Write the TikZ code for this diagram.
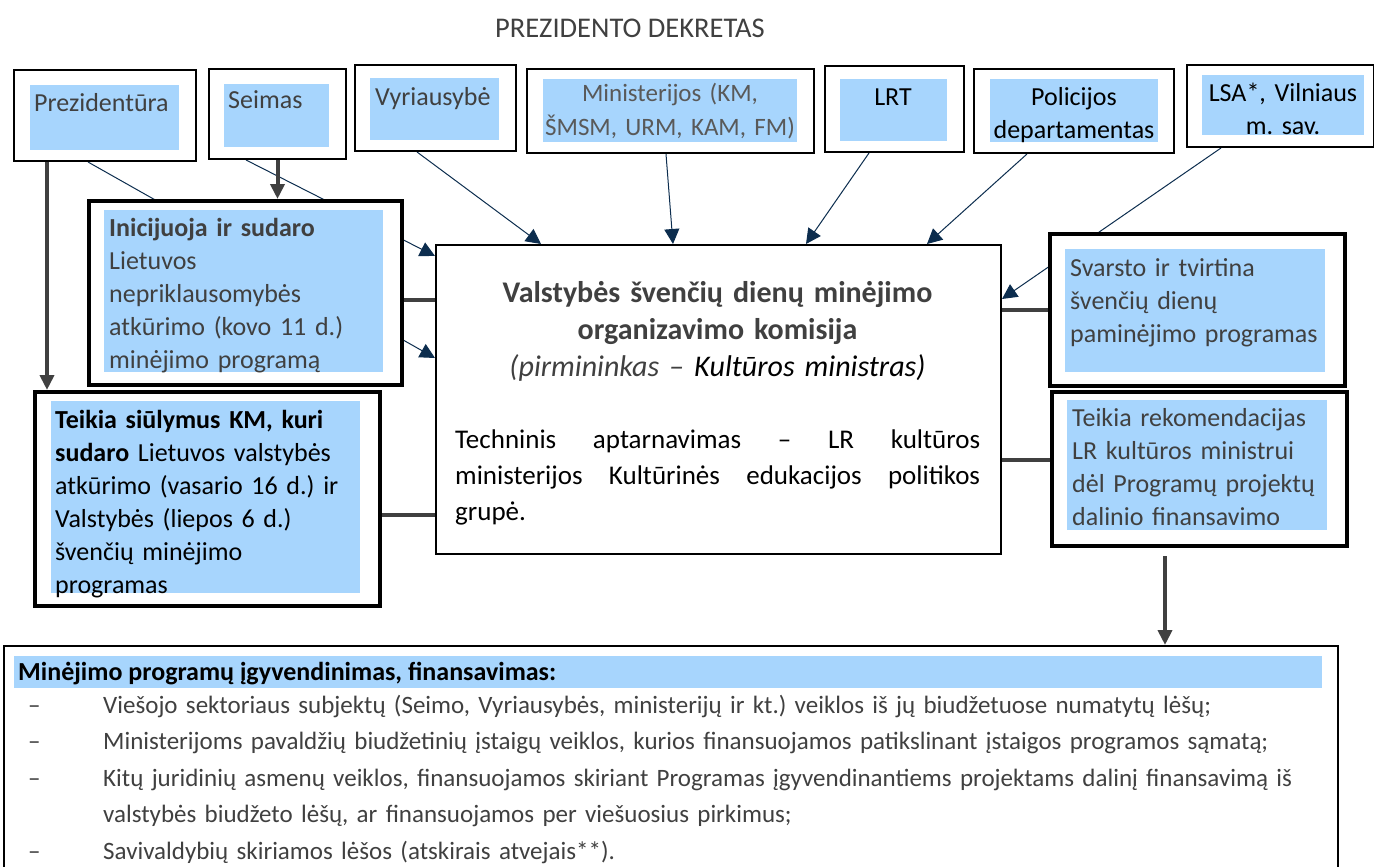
\documentclass[tikz,border=0pt]{standalone}
\usepackage{fontspec}
\setmainfont{Carlito}
\usetikzlibrary{arrows.meta}
\usetikzlibrary{backgrounds}

\definecolor{paleblue}{RGB}{167,213,253}
\definecolor{navy}{RGB}{12,45,78}
\definecolor{ink}{RGB}{64,64,64}
\definecolor{softink}{RGB}{89,89,89}

\newcommand{\bodyfont}{\fontsize{26}{33}\selectfont}
\frenchspacing

\begin{document}
\begin{tikzpicture}[x=1pt,y=1pt,
        frame/.style={draw, fill=white, line width=2pt, anchor=north west, inner sep=0pt},
        heavy/.style={frame, line width=4pt},
        txt/.style={anchor=base west, inner sep=0pt, align=left, text=ink, font=\bodyfont},
        ctxt/.style={txt, anchor=base, align=center},
        feed/.style={navy, line width=1pt, -{Triangle[length=15pt,width=15pt]}},
        link/.style={ink, line width=4pt},
        push/.style={ink, line width=4pt, -{Triangle[length=15pt,width=14pt]}}]
    \useasboundingbox (0,0) rectangle (1374,-867);
    \clip (0,0) rectangle (1374,-867);

    \node[font=\fontsize{28.5}{34}\selectfont, text=ink] (decree) at (630,-28) {PREZIDENTO DEKRETAS};

    % top row
    \node[frame, minimum width=182, minimum height=91] (prez) at (13,-69) {};
    \fill[paleblue] (30,-85) rectangle (179,-150);
    \node[txt] (prez-t) at (34,-111) {Prezidentūra};

    \node[frame, minimum width=137, minimum height=90] (seim) at (208,-68) {};
    \fill[paleblue] (224,-84) rectangle (329,-147);
    \node[txt] (seim-t) at (228,-109) {Seimas};

    \node[frame, minimum width=161, minimum height=86] (vyr) at (354,-64) {};
    \fill[paleblue] (370,-78) rectangle (499,-140);
    \node[txt] (vyr-t) at (375,-105) {Vyriausybė};

    \node[frame, minimum width=287, minimum height=84] (min) at (526,-68) {};
    \fill[paleblue] (543,-79) rectangle (797,-142);
    \node[ctxt, text width=290pt, text=softink, font=\fontsize{25}{33}\selectfont] (min-t) at (670,-102) {Ministerijos (KM,\\ŠMSM, URM, KAM, FM)};

    \node[frame, minimum width=139, minimum height=86] (lrt) at (824,-65) {};
    \fill[paleblue] (840,-79) rectangle (947,-141);
    \node[ctxt, text=black] (lrt-t) at (893,-105) {LRT};

    \node[frame, minimum width=200, minimum height=84] (pol) at (973,-68) {};
    \fill[paleblue] (990,-79) rectangle (1158,-142);
    \node[ctxt, text width=180pt, text=black] (pol-t) at (1074,-105) {Policijos\\departamentas};

    \node[frame, minimum width=187, minimum height=82] (lsa) at (1186,-64) {};
    \fill[paleblue] (1202,-75) rectangle (1364,-135);
    \node[ctxt, text width=175pt, text=black] (lsa-t) at (1283,-101) {LSA*, Vilniaus\\m. sav.};

    % left column
    \node[heavy, minimum width=313, minimum height=184] (ini) at (87,-199) {};
    \fill[paleblue] (104,-210) rectangle (383,-372);
    \node[txt, text width=275pt] (ini-t) at (109,-236) {\textbf{Inicijuoja ir sudaro}\\Lietuvos\\nepriklausomybės\\atkūrimo (kovo 11 d.)\\minėjimo programą};

    \node[heavy, minimum width=345, minimum height=214] (teik) at (33,-390) {};
    \fill[paleblue] (51,-401) rectangle (360,-593);
    \node[txt, text width=305pt, text=black] (teik-t) at (55,-428) {\textbf{Teikia siūlymus KM, kuri}\\\textbf{sudaro} Lietuvos valstybės\\atkūrimo (vasario 16 d.) ir\\Valstybės (liepos 6 d.)\\švenčių minėjimo\\programas};

    % commission
    \node[frame, minimum width=565, minimum height=309] (comm) at (435,-244) {};
    \node[ctxt, text width=540pt, font=\fontsize{30}{37}\selectfont] (comm-t) at (717.5,-302)
        {\textbf{Valstybės švenčių dienų minėjimo}\\\textbf{organizavimo komisija}\\\textit{(pirmininkas – \textcolor{black}{Kultūros ministras)}}};
    \node[txt, text width=525pt, align=justify, text=black, font=\fontsize{27}{36}\selectfont] (tech) at (455,-448)
        {Techninis aptarnavimas – LR kultūros\linebreak ministerijos Kultūrinės edukacijos politikos\linebreak grupė.};

    % right column
    \node[heavy, minimum width=295, minimum height=152] (svar) at (1048,-232) {};
    \fill[paleblue] (1065,-249) rectangle (1325,-372);
    \node[txt, text width=258pt] (svar-t) at (1070,-276) {Svarsto ir tvirtina\\švenčių dienų\\paminėjimo programas};

    \node[heavy, minimum width=295, minimum height=154] (rek) at (1050,-390) {};
    \fill[paleblue] (1067,-400) rectangle (1327,-530);
    \node[txt, text width=258pt] (rek-t) at (1072,-426) {Teikia rekomendacijas\\LR kultūros ministrui\\dėl Programų projektų\\dalinio finansavimo};

    % bottom
    \node[frame, minimum width=1334, minimum height=240] (prog) at (3,-645) {};
    \fill[paleblue] (14,-656) rectangle (1322,-688);
    \node[txt, text=black] (prog-h) at (18,-680) {\textbf{Minėjimo programų įgyvendinimas, finansavimas:}};
    \node[txt, text width=40pt, font=\fontsize{25}{36.5}\selectfont] (prog-d) at (28,-713) {–\\–\\–\\\mbox{}\\–};
    \node[txt, text width=1260pt, font=\fontsize{25}{36.5}\selectfont] (prog-l) at (103,-713)
        {Viešojo sektoriaus subjektų (Seimo, Vyriausybės, ministerijų ir kt.) veiklos iš jų biudžetuose numatytų lėšų;\\
         Ministerijoms pavaldžių biudžetinių įstaigų veiklos, kurios finansuojamos patikslinant įstaigos programos sąmatą;\\
         Kitų juridinių asmenų veiklos, finansuojamos skiriant Programas įgyvendinantiems projektams dalinį finansavimą iš\\
         valstybės biudžeto lėšų, ar finansuojamos per viešuosius pirkimus;\\
         Savivaldybių skiriamos lėšos (atskirais atvejais**).};

    % connectors
    \draw[push] ([xshift=34pt]prez.south west) -- ([xshift=34pt]prez.south west |- teik.north);
    \draw[push] (seim.south) -- (seim.south |- ini.north);
    \draw[push] ([xshift=-34.5pt,yshift=-8pt]rek.south) -- ([xshift=-34.5pt]rek.south |- prog.north);

    \draw[link] ([yshift=-7pt]ini.east) -- ([yshift=-7pt]ini.east -| comm.west);
    \draw[link] ([yshift=-16pt]teik.east) -- ([yshift=-16pt]teik.east -| comm.west);
    \draw[link] (svar.west) -- (svar.west -| comm.east);
    \draw[link] ([yshift=9pt]rek.west) -- ([yshift=9pt]rek.west -| comm.east);

    \begin{scope}[on background layer]
        \draw[feed] ([xshift=-17pt]prez.south) -- ([yshift=41.5pt]comm.west);
        \draw[feed] ([xshift=-31.5pt]seim.south) -- ([yshift=143.5pt]comm.west);
        \draw[feed] ([xshift=-18.5pt]vyr.south) -- ([xshift=-177.5pt]comm.north);
        \draw[feed] ([xshift=-4.5pt]min.south) -- ([xshift=-45.5pt]comm.north);
        \draw[feed] ([xshift=-25.5pt]lrt.south) -- ([xshift=87.5pt]comm.north);
        \draw[feed] ([xshift=-47pt]pol.south) -- ([xshift=208.5pt]comm.north);
        \draw[feed] ([xshift=-59.5pt]lsa.south) -- ([yshift=100.5pt]comm.east);
    \end{scope}
\end{tikzpicture}
\end{document}
